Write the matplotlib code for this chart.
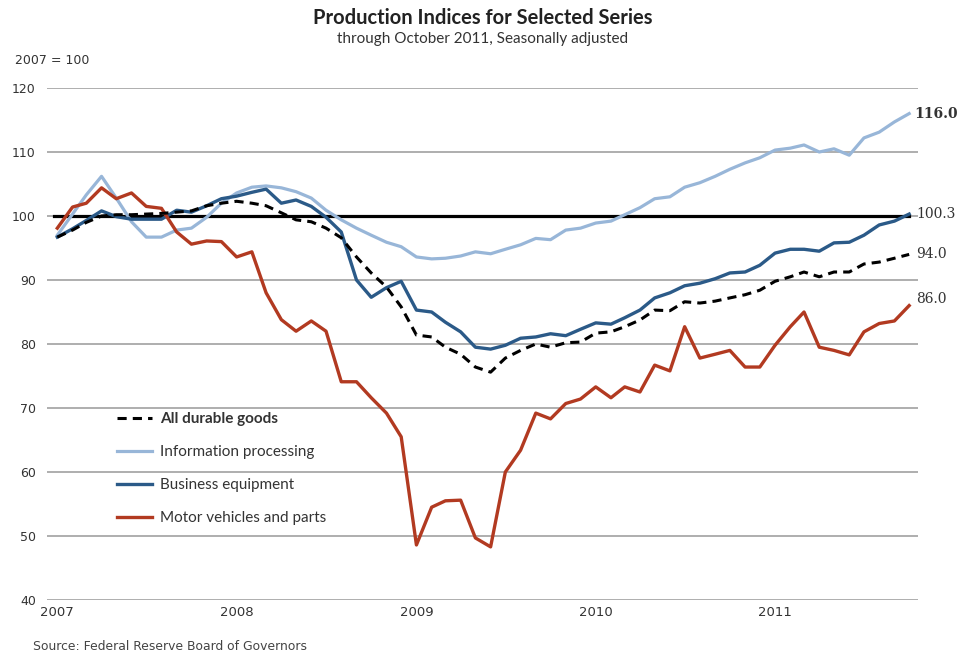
import matplotlib
matplotlib.use("Agg")
import matplotlib.pyplot as plt
import matplotlib.dates as mdates
import pandas as pd
import numpy as np

# monthly, Jan 2007 .. Oct 2011 (2007 = 100)
months = pd.date_range("2007-01-01", periods=58, freq="MS")

all_durable = [96.7, 97.8, 99.0, 100.0, 100.2, 100.2, 100.3, 100.4, 100.6, 100.8, 101.6, 102.0,
               102.3, 102.0, 101.6, 100.5, 99.4, 99.1, 98.1, 96.6, 93.6, 91.1, 88.9, 85.8,
               81.4, 81.1, 79.5, 78.4, 76.4, 75.6, 77.8, 79.0, 80.0, 79.5, 80.2, 80.3,
               81.7, 81.9, 82.7, 83.75, 85.3, 85.2, 86.6, 86.4, 86.7, 87.2, 87.7, 88.4,
               89.8, 90.5, 91.25, 90.5, 91.25, 91.25, 92.5, 92.8, 93.4, 94.0]

info_proc = [97.0, 100.3, 103.3, 106.2, 102.8, 99.1, 96.7, 96.7, 97.8, 98.1, 99.8, 102.0,
             103.6, 104.5, 104.7, 104.4, 103.8, 102.8, 100.9, 99.4, 98.1, 97.0, 95.9, 95.2,
             93.6, 93.3, 93.4, 93.75, 94.4, 94.1, 94.8, 95.5, 96.5, 96.3, 97.8, 98.1,
             98.9, 99.2, 100.2, 101.3, 102.7, 103.0, 104.5, 105.2, 106.2, 107.3, 108.3, 109.1,
             110.3, 110.6, 111.1, 110.0, 110.5, 109.5, 112.2, 113.1, 114.7, 116.0]

business_eq = [96.7, 98.0, 99.3, 100.8, 99.9, 99.5, 99.5, 99.5, 100.9, 100.6, 101.6, 102.7,
               103.1, 103.7, 104.2, 102.0, 102.5, 101.5, 99.8, 97.5, 90.0, 87.3, 88.8, 89.8,
               85.3, 85.0, 83.4, 81.9, 79.5, 79.2, 79.8, 80.9, 81.1, 81.6, 81.3, 82.3,
               83.3, 83.1, 84.1, 85.3, 87.2, 88.0, 89.1, 89.5, 90.2, 91.1, 91.25, 92.3,
               94.2, 94.8, 94.8, 94.5, 95.8, 95.9, 97.0, 98.6, 99.2, 100.3]

motor_veh = [98.1, 101.4, 102.0, 104.4, 102.7, 103.6, 101.5, 101.2, 97.5, 95.6, 96.1, 96.0,
             93.6, 94.4, 88.0, 83.8, 82.0, 83.6, 82.0, 74.1, 74.1, 71.6, 69.2, 65.5,
             48.6, 54.5, 55.5, 55.6, 49.7, 48.3, 60.0, 63.4, 69.2, 68.3, 70.7, 71.4,
             73.3, 71.6, 73.3, 72.5, 76.7, 75.8, 82.7, 77.8, 78.4, 79.0, 76.4, 76.4,
             79.8, 82.7, 85.0, 79.5, 79.0, 78.3, 81.9, 83.2, 83.6, 86.0]

end_labels = ["116.0", "100.3", "94.0", "86.0"]
yticks = [40, 50, 60, 70, 80, 90, 100, 110, 120]
year_ticks = ["2007", "2008", "2009", "2010", "2011"]

c_light = "#98b6d8"
c_dark = "#2b5a88"
c_red = "#b23a21"
txt = "#333333"

fig = plt.figure(figsize=(9.66, 6.53), dpi=100)
ax = fig.add_axes([47 / 966, 1 - 600 / 653, (918 - 47) / 966, (600 - 88) / 653])

ax.set_ylim(40, 120)
ax.set_xlim(pd.Timestamp("2006-12-11"), pd.Timestamp("2011-10-19"))
ax.set_yticks(yticks)
ax.grid(axis="y", color="#a8a8a8", linewidth=1.3)
ax.set_axisbelow(True)
for s in ax.spines.values():
    s.set_visible(False)
ax.tick_params(length=0)
ax.tick_params(axis="y", pad=8, labelsize=9, labelcolor=txt)
ax.tick_params(axis="x", pad=4, labelsize=9.5, labelcolor=txt)
ax.set_xticks([pd.Timestamp(y + "-01-01") for y in year_ticks])
ax.set_xticklabels(year_ticks)

ax.plot([months[0] - pd.Timedelta(days=6), months[-1]], [100, 100], color="black", lw=2.3, zorder=2)

ax.plot(months, info_proc, color=c_light, lw=2.3, label="Information processing", zorder=3)
ax.plot(months, business_eq, color=c_dark, lw=2.4, label="Business equipment", zorder=4)
ax.plot(months, motor_veh, color=c_red, lw=2.4, label="Motor vehicles and parts", zorder=5)
ax.plot(months, all_durable, color="black", lw=2.2, ls=(0, (3, 2)), label="All durable goods", zorder=6)

# end labels
ends = [info_proc[-1], business_eq[-1], all_durable[-1], motor_veh[-1]]
offs = [0.0, 0.0, 0.0, 1.0]
for i, (v, lab) in enumerate(zip(ends, end_labels)):
    ax.annotate(lab, xy=(months[-1], v + offs[i]), xytext=(5 if i else 4, 0),
                textcoords="offset points", va="center", ha="left", fontsize=10,
                family="DejaVu Serif", color=txt,
                fontweight="bold" if i == 0 else "normal", annotation_clip=False)

h, l = ax.get_legend_handles_labels()
order = [3, 0, 1, 2]
leg = ax.legend([h[i] for i in order], [l[i] for i in order], loc="upper left",
                bbox_to_anchor=(117 / 966, 1 - 412 / 653), bbox_transform=fig.transFigure,
                frameon=False, borderpad=0, borderaxespad=0, handlelength=2.3,
                handletextpad=0.5, labelspacing=1.25, prop={"family": "Lato", "size": 11})
for t in leg.get_texts():
    t.set_color(txt)
leg.get_texts()[0].set_fontweight("bold")

fig.text(483 / 966, 1 - 18 / 653, "Production Indices for Selected Series", ha="center", va="center",
         fontsize=14.5, fontweight="bold", family="Lato", color="#222222")
fig.text(483 / 966, 1 - 39 / 653, "through October 2011, Seasonally adjusted", ha="center", va="center",
         fontsize=11, family="Lato", color=txt)
fig.text(15 / 966, 1 - 60 / 653, "2007 = 100", ha="left", va="center", fontsize=9, color=txt)
fig.text(33 / 966, 1 - 646 / 653, "Source: Federal Reserve Board of Governors", ha="left", va="center",
         fontsize=8.9, color="#444444")

fig.savefig("out.png", dpi=100)
